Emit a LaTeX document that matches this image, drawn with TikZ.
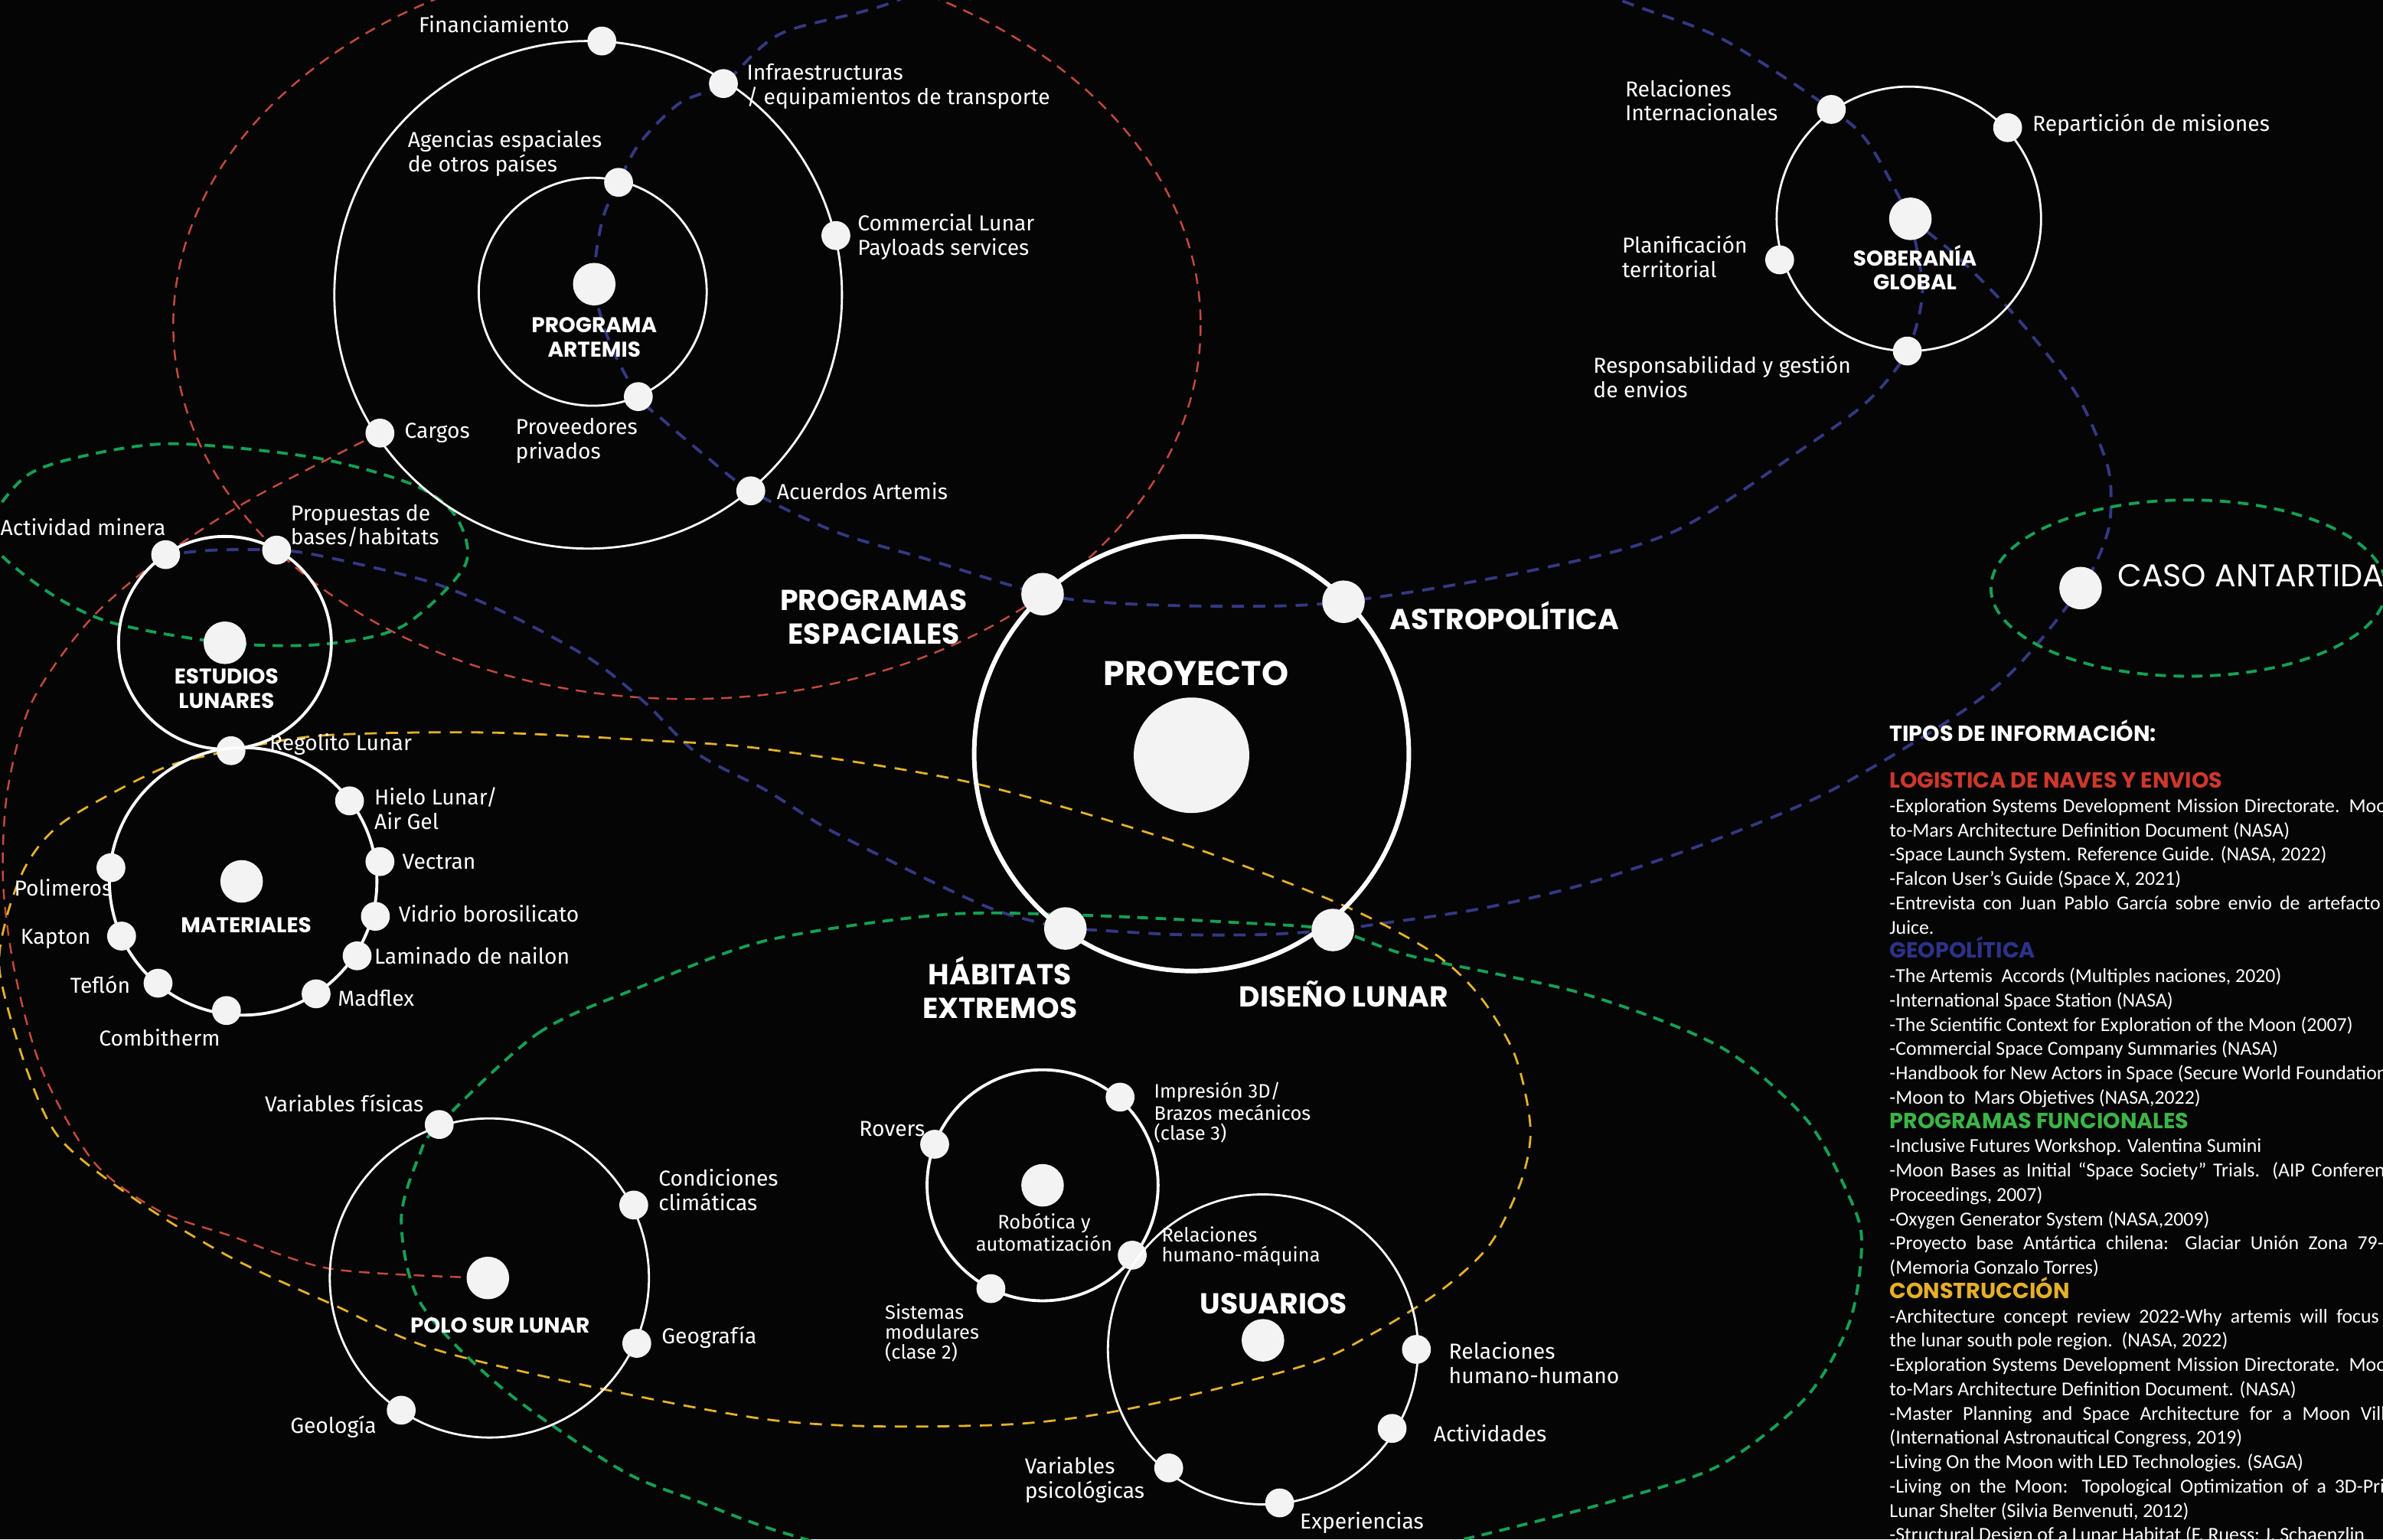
\documentclass[tikz,border=0pt]{standalone}
\usepackage{fontspec}
\usetikzlibrary{positioning, backgrounds}
\newfontfamily\lblfont{Fira Sans}
\newfontfamily\capfont{Poppins}
\newfontfamily\bibfont{Carlito}
\definecolor{bgblack}{RGB}{5,5,5}
\definecolor{dotwhite}{RGB}{242,243,242}
\definecolor{logred}{RGB}{196,74,60}
\definecolor{geonavy}{RGB}{52,56,130}
\definecolor{fungreen}{RGB}{20,160,85}
\definecolor{conyellow}{RGB}{228,178,40}
\definecolor{logtitle}{RGB}{205,55,45}
\definecolor{geotitle}{RGB}{45,50,135}
\definecolor{funtitle}{RGB}{60,180,70}
\definecolor{contitle}{RGB}{230,175,40}
\newlength{\pxu}
\setlength{\pxu}{0.2mm}
\newcommand{\jline}[2]{\makebox[#1\pxu][s]{#2}}
\newcommand{\bibhead}[2]{{\capfont\bfseries\fontsize{8.2}{9.1}\selectfont\color{#1}#2}}
\tikzset{
    ring/.style={circle, draw=white, line width=0.8pt, inner sep=0pt},
    bigring/.style={ring, line width=1.7pt},
    dot/.style={circle, fill=dotwhite, inner sep=0pt, minimum size=3.8mm},
    hub/.style={dot, minimum size=5.6mm},
    lbl/.style={text=white, inner sep=0pt, align=left, font=\lblfont\fontsize{8.1}{9.1}\selectfont},
    smalllbl/.style={lbl, font=\lblfont\fontsize{7.3}{7.4}\selectfont},
    title/.style={text=white, inner sep=0pt, align=center, font=\capfont\bfseries\fontsize{10.8}{12.5}\selectfont},
    subtitle/.style={title, font=\capfont\bfseries\fontsize{8}{9.1}\selectfont},
    orbitline/.style={line width=0.7pt, dash pattern=on 1.4mm off 1mm},
    logline/.style={orbitline, draw=logred},
    geoline/.style={orbitline, draw=geonavy, line width=1.1pt, dash pattern=on 1.6mm off 1.2mm},
    funline/.style={orbitline, draw=fungreen, line width=1.1pt},
    conline/.style={orbitline, draw=conyellow, line width=0.8pt, dash pattern=on 1.6mm off 1.2mm}
}

\begin{document}
\begin{tikzpicture}[x=0.2mm, y=-0.2mm]
    \useasboundingbox (0,0) rectangle (1568,1013);

    % programa artemis
    \node[ring, minimum size=66.8mm] (artring) at (387,194) {};
    \node[ring, minimum size=30mm] (artinner) at (390,192) {};
    \node[hub] (artemis) at (391,187) {};
    \node[dot] (fin) at (396,27) {};
    \node[dot] (infra) at (476,55) {};
    \node[dot] (agencias) at (407,120) {};
    \node[dot] (commercial) at (550,155) {};
    \node[dot] (proveedores) at (420,261) {};
    \node[dot] (cargos) at (250,285) {};
    \node[dot] (acuerdos) at (494,323) {};
    \node[subtitle] (artemislbl) at (391,222) {PROGRAMA\\ARTEMIS};
    \node[lbl, anchor=east] (finlbl) at (375,16) {Financiamiento};
    \node[lbl, anchor=west] (infralbl) at (491,57) {Infraestructuras\\/ equipamientos de transporte};
    \node[lbl, anchor=west] (agenciaslbl) at (268,101) {Agencias espaciales\\de otros países};
    \node[lbl, anchor=west] (commerciallbl) at (564,156) {Commercial Lunar\\Payloads services};
    \node[lbl, right=1.2mm of cargos] (cargoslbl) {Cargos};
    \node[lbl, anchor=west] (proveedoreslbl) at (339,290) {Proveedores\\privados};
    \node[lbl, right=1.4mm of acuerdos] (acuerdoslbl) {Acuerdos Artemis};

    % proyecto
    \node[bigring, minimum size=57.2mm] (proring) at (784,496) {};
    \node[dot, minimum size=15.2mm] (proyecto) at (784,497) {};
    \node[hub] (progesp) at (686,391) {};
    \node[hub] (astro) at (884,396) {};
    \node[hub] (habitats) at (701,611) {};
    \node[hub] (diseno) at (877,612) {};
    \node[title, font=\capfont\bfseries\fontsize{12.8}{15}\selectfont] (proyectolbl) at (787,443) {PROYECTO};
    \node[title] (progesplbl) at (575,406) {PROGRAMAS\\ESPACIALES};
    \node[title, anchor=west] (astrolbl) at (914,405) {ASTROPOLÍTICA};
    \node[title] (habitatslbl) at (658,650) {HÁBITATS\\EXTREMOS};
    \node[title, anchor=west] (disenolbl) at (815,654) {DISEÑO LUNAR};

    % soberania global
    \node[ring, minimum size=34.8mm] (sobring) at (1256,144) {};
    \node[hub] (soberania) at (1257,144) {};
    \node[dot] (relint) at (1205,72) {};
    \node[dot] (reparto) at (1321,84) {};
    \node[dot] (planif) at (1171,171) {};
    \node[dot] (respons) at (1255,231) {};
    \node[subtitle] (soberanialbl) at (1260,176) {SOBERANÍA\\GLOBAL};
    \node[lbl, anchor=west] (relintlbl) at (1069,66) {Relaciones\\Internacionales};
    \node[lbl, anchor=west] (repartolbl) at (1337,82) {Repartición de misiones};
    \node[lbl, anchor=west] (planiflbl) at (1067,169) {Planificación\\territorial};
    \node[lbl, anchor=west] (responslbl) at (1048,248) {Responsabilidad y gestión\\de envios};

    % caso antartida
    \node[hub] (caso) at (1369,387) {};
    \node[title, anchor=west, font=\capfont\fontsize{11.8}{13}\selectfont] (casolbl) at (1393,379) {CASO ANTARTIDA};

    % estudios lunares
    \node[ring, line width=1.1pt, minimum size=28mm] (estring) at (148,423) {};
    \node[hub] (estudios) at (148,423) {};
    \node[dot] (minera) at (109,365) {};
    \node[dot] (propuestas) at (182,362) {};
    \node[dot] (regolito) at (152,494) {};
    \node[subtitle] (estudioslbl) at (149,453) {ESTUDIOS\\LUNARES};
    \node[lbl, anchor=west] (mineralbl) at (0,347) {Actividad minera};
    \node[lbl, anchor=west] (propuestaslbl) at (191,346) {Propuestas de\\bases/habitats};
    \node[lbl, anchor=west] (regolitolbl) at (177,490) {Regolito Lunar};

    % materiales
    \node[ring, line width=1.1pt, minimum size=35.2mm] (matring) at (160,580) {};
    \node[hub] (materiales) at (159,580) {};
    \node[dot] (hielo) at (230,527) {};
    \node[dot] (vectran) at (250,567) {};
    \node[dot] (vidrio) at (247,603) {};
    \node[dot] (laminado) at (235,629) {};
    \node[dot] (madflex) at (208,654) {};
    \node[dot] (combitherm) at (149,665) {};
    \node[dot] (teflon) at (104,647) {};
    \node[dot] (kapton) at (80,616) {};
    \node[dot] (polimeros) at (73,571) {};
    \node[subtitle] (materialeslbl) at (162,609) {MATERIALES};
    \node[lbl, anchor=west] (hielolbl) at (246,532) {Hielo Lunar/\\Air Gel};
    \node[lbl, right=0.9mm of vectran] (vectranlbl) {Vectran};
    \node[lbl, anchor=west] (vidriolbl) at (262,601) {Vidrio borosilicato};
    \node[lbl, anchor=west] (laminadolbl) at (246,629) {Laminado de nailon};
    \node[lbl, anchor=west] (madflexlbl) at (222,657) {Madflex};
    \node[lbl] (combithermlbl) at (105,683) {Combitherm};
    \node[lbl, anchor=east] (teflonlbl) at (86,648) {Teflón};
    \node[lbl, anchor=east] (kaptonlbl) at (60,618) {Kapton};
    \node[lbl, anchor=east] (polimeroslbl) at (74,584) {Polimeros};

    % polo sur lunar
    \node[ring, minimum size=42mm] (polring) at (322,841) {};
    \node[hub] (polo) at (321,841) {};
    \node[dot] (varfis) at (289,740) {};
    \node[dot] (condiciones) at (417,793) {};
    \node[dot] (geografia) at (419,884) {};
    \node[dot] (geologia) at (264,928) {};
    \node[subtitle] (pololbl) at (329,872) {POLO SUR LUNAR};
    \node[lbl, anchor=east] (varfislbl) at (279,726) {Variables físicas};
    \node[lbl, anchor=west] (condicioneslbl) at (433,783) {Condiciones\\climáticas};
    \node[lbl, anchor=west] (geografialbl) at (435,880) {Geografía};
    \node[lbl, anchor=east] (geologialbl) at (248,939) {Geología};

    % robotica
    \node[ring, line width=1.1pt, minimum size=30.4mm] (robring) at (686,780) {};
    \node[hub] (robotica) at (686,780) {};
    \node[dot] (rovers) at (615,753) {};
    \node[dot] (impresion) at (737,722) {};
    \node[dot] (relhm) at (745,826) {};
    \node[dot] (sistemas) at (652,848) {};
    \node[smalllbl, align=center] (roboticalbl) at (687,811) {Robótica y\\automatización};
    \node[lbl, anchor=east] (roverslbl) at (609,743) {Rovers};
    \node[smalllbl, anchor=west] (impresionlbl) at (759,732) {Impresión 3D/\\Brazos mecánicos\\(clase 3)};
    \node[smalllbl, anchor=west] (relhmlbl) at (764,820) {Relaciones\\humano-máquina};
    \node[smalllbl, anchor=west] (sistemaslbl) at (582,877) {Sistemas\\modulares\\(clase 2)};

    % usuarios
    \node[ring, minimum size=40.8mm] (usring) at (831,888) {};
    \node[hub] (usuarios) at (831,882) {};
    \node[dot] (relhh) at (932,888) {};
    \node[dot] (actividades) at (916,940) {};
    \node[dot] (varpsi) at (769,966) {};
    \node[dot] (experiencias) at (842,989) {};
    \node[title] (usuarioslbl) at (838,858) {USUARIOS};
    \node[lbl, anchor=west] (relhhlbl) at (953,897) {Relaciones\\humano-humano};
    \node[lbl, anchor=west] (actividadeslbl) at (943,943) {Actividades};
    \node[lbl, anchor=west] (varpsilbl) at (674,974) {Variables\\psicológicas};
    \node[lbl, anchor=west] (experienciaslbl) at (855,1002) {Experiencias};

    % tipos de informacion
    \node[text=white, inner sep=0pt, anchor=west, font=\capfont\bfseries\fontsize{8.2}{9.1}\selectfont] (tiposlbl) at (1243,481) {TIPOS DE INFORMACIÓN:};
    \node[text=white, inner sep=0pt, anchor=north west, align=left, font=\bibfont\fontsize{7.4}{9.1}\selectfont] (fuentes) at (1243,508) {%
        \bibhead{logtitle}{LOGISTICA DE NAVES Y ENVIOS}\\
        \jline{338}{-Exploration Systems Development Mission Directorate. Moon-}\\
        to-Mars Architecture Definition Document (NASA)\\
        -Space Launch System. Reference Guide. (NASA, 2022)\\
        -Falcon User’s Guide (Space X, 2021)\\
        \jline{323}{-Entrevista con Juan Pablo García sobre envio de artefacto}\\
        Juice.\\
        \bibhead{geotitle}{GEOPOLÍTICA}\\
        -The Artemis\ \ Accords (Multiples naciones, 2020)\\
        -International Space Station (NASA)\\
        -The Scientific Context for Exploration of the Moon (2007)\\
        -Commercial Space Company Summaries (NASA)\\
        -Handbook for New Actors in Space (Secure World Foundation\\
        -Moon to\ \ Mars Objetives (NASA,2022)\\
        \bibhead{funtitle}{PROGRAMAS FUNCIONALES}\\
        -Inclusive Futures Workshop. Valentina Sumini\\
        \jline{338}{-Moon Bases as Initial “Space Society” Trials. (AIP Conference}\\
        Proceedings, 2007)\\
        -Oxygen Generator System (NASA,2009)\\
        \jline{325}{-Proyecto base Antártica chilena: Glaciar Unión Zona 79-}\\
        (Memoria Gonzalo Torres)\\
        \bibhead{contitle}{CONSTRUCCIÓN}\\
        \jline{322}{-Architecture concept review 2022-Why artemis will focus}\\
        the lunar south pole region.\ \ (NASA, 2022)\\
        \jline{338}{-Exploration Systems Development Mission Directorate. Moon-}\\
        to-Mars Architecture Definition Document. (NASA)\\
        \jline{345}{-Master Planning and Space Architecture for a Moon Village}\\
        (International Astronautical Congress, 2019)\\
        -Living On the Moon with LED Technologies. (SAGA)\\
        \jline{350}{-Living on the Moon: Topological Optimization of a 3D-Printed}\\
        Lunar Shelter (Silvia Benvenuti, 2012)\\
        -Structural Design of a Lunar Habitat (F. Ruess; J. Schaenzlin};

    \begin{scope}[on background layer]
        \fill[bgblack] (0,0) rectangle (1568,1013);
        % logistica
        \draw[logline] (452,214) ellipse [x radius=338, y radius=246];
        \draw[logline] plot[smooth] coordinates {(cargos.center) (166,328) (minera.center) (60,407) (21,462) (5,520) (2,580) (10,641) (28,705) (62,765) (105,797) (151,813) (218,835) (polo.center)};
        % geopolitica
        \draw[geoline] plot[smooth] coordinates {(soberania.center) (1230,95) (relint.center) (1132,25) (1066,0) (960,-45) (830,-70) (700,-55) (591,0) (514,22) (infra.center) (447,68) (421,94) (agencias.center) (396,146) (artemis.center) (401,225) (proveedores.center) (437,277) (463,299) (acuerdos.center) (550,350) (610,368) (progesp.center) (735,397) (812,399) (astro.center) (1005,376) (1101,350) (1191,292) (1230,263) (respons.center) (1265,191) (soberania.center)};
        \draw[geoline] plot[smooth] coordinates {(soberania.center) (1288,169) (1327,209) (1366,259) (1386,304) (1389,330) (1386,353) (caso.center) (1312,453) (1209,518) (1125,554) (1042,582) (974,598) (907,608) (diseno.center) (831,615) (774,615) (720,612) (habitats.center) (658,600) (619,583) (581,564) (542,544) (504,520) (459,496) (424,462) (389,434) (336,405) (283,383) (212,366) (propuestas.center) (141,362) (minera.center)};
        % programas funcionales
        \draw[funline] plot[smooth cycle] coordinates {(113,292) (206,301) (272,319) (300,340) (306,372) (265,412) (212,424) (estudios.center) (71,409) (25,385) (-8,352) (15,315) (51,301)};
        \draw[funline] (1440,387) ellipse [x radius=130, y radius=58];
        \draw[funline] plot[smooth cycle] coordinates {(varfis.center) (354,680) (420,650) (504,619) (619,602) (704,602) (812,607) (diseno.center) (928,629) (1042,654) (1132,689) (1188,736) (1217,788) (1225,818) (1217,870) (1188,920) (1132,964) (1064,987) (963,1013) (820,1045) (640,1040) (520,1010) (459,988) (408,967) (331,914) (277,858) (264,803) (276,760)};
        % construccion
        \draw[conline] plot[smooth cycle] coordinates {(regolito.center) (212,484) (318,482) (424,487) (504,493) (639,515) (774,554) (882,595) (943,627) (974,656) (997,695) (1007,742) (1001,777) (981,818) (951,847) (906,876) (857,899) (738,928) (648,938) (504,934) (300,892) (218,858) (151,827) (90,790) (40,750) (18,705) (0,641) (4,605) (18,568) (43,540) (106,506)};
    \end{scope}
\end{tikzpicture}
\end{document}
